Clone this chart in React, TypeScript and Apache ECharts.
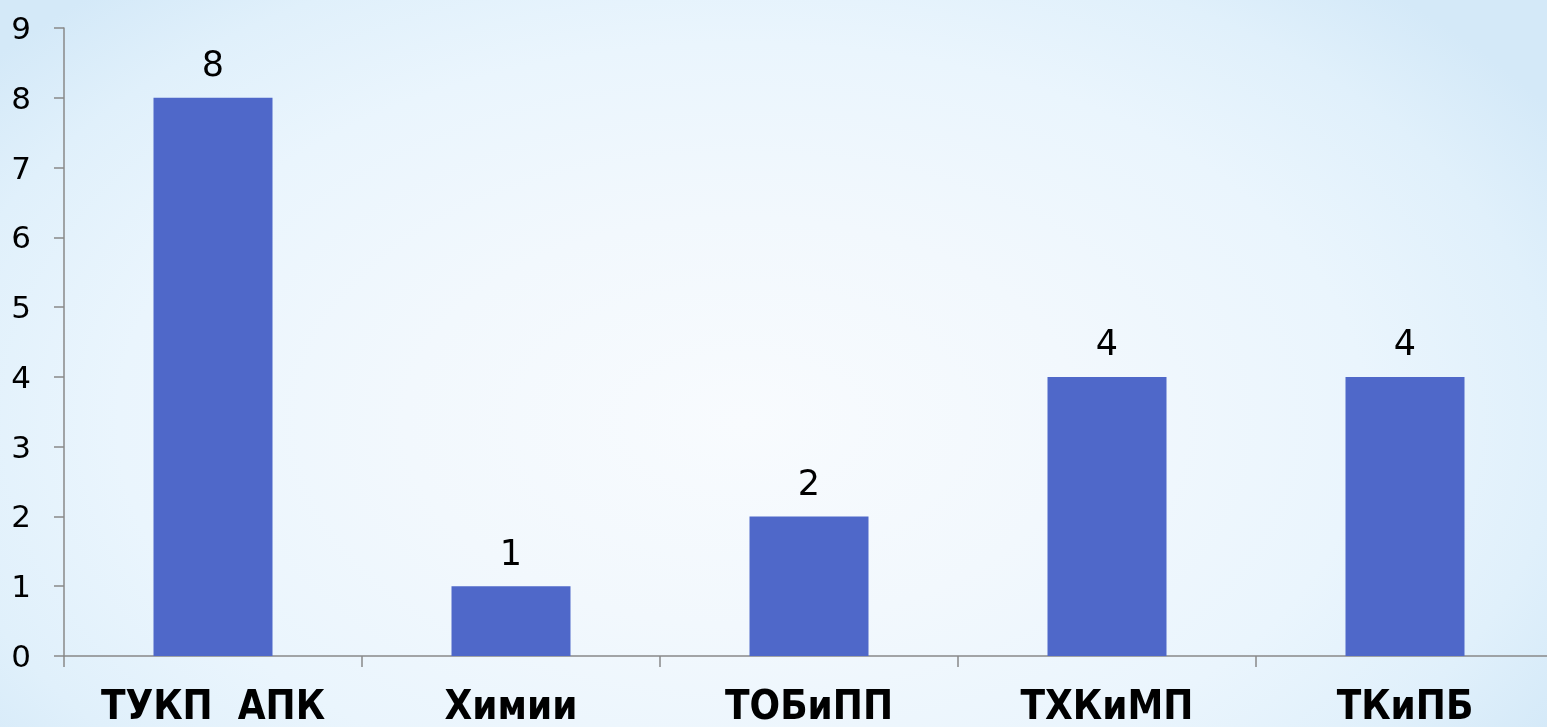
import React, { useEffect, useRef } from "react";
import * as echarts from "echarts";

const categories = ["ТУКП  АПК", "Химии", "ТОБиПП", "ТХКиМП", "ТКиПБ"];
const values = [8, 1, 2, 4, 4];
const yTicks = [0, 1, 2, 3, 4, 5, 6, 7, 8, 9];

const FONT = "'DejaVu Sans', sans-serif";
const XFONT = "'DejaVu Sans Condensed', 'DejaVu Sans', sans-serif";

export default function App() {
  const ref = useRef<HTMLDivElement>(null);
  useEffect(() => {
    if (!ref.current) return;
    const chart = echarts.init(ref.current, null, { renderer: "svg" });
    chart.setOption({
      animation: false,
      grid: { left: 64, top: 28, width: 1490, height: 628, containLabel: false },
      xAxis: {
        type: "category",
        data: categories,
        axisLine: { lineStyle: { color: "#888888", width: 1.5 } },
        axisTick: { show: true, length: 11, lineStyle: { color: "#888888", width: 1.5 } },
        axisLabel: {
          interval: 0,
          color: "#000",
          fontFamily: XFONT,
          fontWeight: "bold",
          fontSize: 40,
          margin: 29,
        },
      },
      yAxis: {
        type: "value",
        min: yTicks[0],
        max: yTicks[yTicks.length - 1],
        interval: 1,
        splitLine: { show: false },
        axisLine: { show: true, lineStyle: { color: "#888888", width: 1.5 } },
        axisTick: { show: true, length: 10, lineStyle: { color: "#888888", width: 1.5 } },
        axisLabel: {
          color: "#000",
          fontFamily: FONT,
          fontSize: 31,
          margin: 33,
        },
      },
      series: [
        {
          type: "bar",
          data: values,
          barWidth: 119,
          itemStyle: { color: "#4F68C9" },
          label: {
            show: true,
            position: "top",
            distance: 16,
            color: "#000",
            fontFamily: FONT,
            fontSize: 35,
          },
        },
      ],
    });
    return () => chart.dispose();
  }, []);
  return (
    <div
      style={{
        position: "fixed",
        left: 0,
        top: 0,
        width: 1547,
        height: 727,
        overflow: "hidden",
        background:
          "radial-gradient(ellipse 62% 80% at 48% 58%, #f8fbfe 0%, #f2f8fd 35%, #eaf5fd 65%, #e0f0fb 85%, #d4e9f8 100%)",
      }}
    >
      <div ref={ref} style={{ width: 1560, height: 727 }} />
    </div>
  );
}
